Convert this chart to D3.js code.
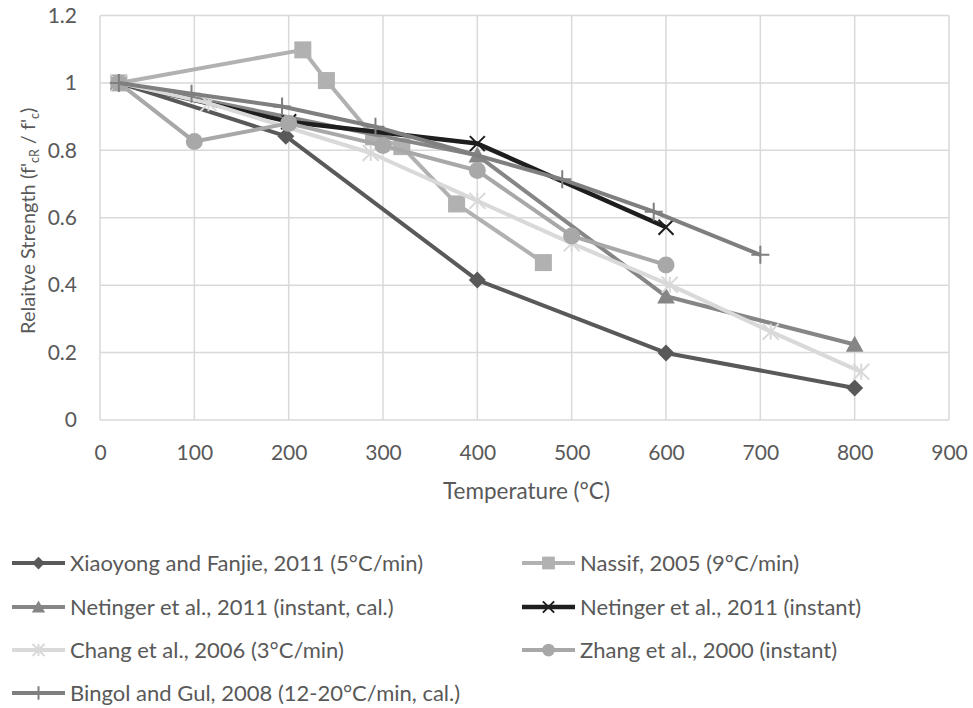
<!DOCTYPE html>
<html><head><meta charset="utf-8">
<script src="https://cdn.jsdelivr.net/npm/d3@7"></script>
<style>body{margin:0;background:#fff;} text{font-family:Lato,"Open Sans",sans-serif;}</style>
</head><body>
<svg id="chart" width="973" height="708"></svg>
<script>
// ---- data ----
const seriesNames = [
  "Xiaoyong and Fanjie, 2011 (5°C/min)",
  "Nassif, 2005 (9°C/min)",
  "Netinger et al., 2011 (instant, cal.)",
  "Netinger et al., 2011 (instant)",
  "Chang et al., 2006 (3°C/min)",
  "Zhang et al., 2000 (instant)",
  "Bingol and Gul, 2008 (12-20°C/min, cal.)"
];
const xiaoyongX = [20, 197, 400, 600, 800];
const xiaoyongY = [1, 0.842, 0.415, 0.199, 0.095];
const nassifX = [20, 215, 240, 290, 320, 378, 470];
const nassifY = [1, 1.098, 1.007, 0.84, 0.811, 0.641, 0.467];
const netCalX = [20, 400, 600, 800];
const netCalY = [1, 0.785, 0.367, 0.224];
const netInstX = [20, 200, 400, 600];
const netInstY = [1, 0.885, 0.82, 0.572];
const changX = [20, 115, 287, 400, 500, 604, 711, 807];
const changY = [1, 0.94, 0.792, 0.65, 0.524, 0.401, 0.262, 0.143];
const zhangX = [20, 100, 200, 300, 400, 500, 600];
const zhangY = [1, 0.826, 0.88, 0.814, 0.74, 0.546, 0.46];
const bingolX = [20, 97, 193, 292, 490, 587, 700];
const bingolY = [1, 0.968, 0.93, 0.87, 0.714, 0.618, 0.49];
const xTicks = [0, 100, 200, 300, 400, 500, 600, 700, 800, 900];
const yTicks = [0, 0.2, 0.4, 0.6, 0.8, 1, 1.2];

const seriesX = [xiaoyongX, nassifX, netCalX, netInstX, changX, zhangX, bingolX];
const seriesY = [xiaoyongY, nassifY, netCalY, netInstY, changY, zhangY, bingolY];
const colors = ["#595959", "#b1b1b1", "#868686", "#1e1e1e", "#d9d9d9", "#a8a8a8", "#7f7f7f"];
const markers = ["diamond", "square", "triangle", "x", "asterisk", "circle", "plus"];

// ---- layout ----
const svg = d3.select("#chart");
const L = 100, R = 949, T = 15.5, B = 420;
const x = d3.scaleLinear().domain([0, 900]).range([L, R]);
const y = d3.scaleLinear().domain([0, 1.2]).range([B, T]);
const txt = "#595959";

// gridlines
const g = svg.append("g");
g.selectAll("line.h").data(yTicks).join("line")
  .attr("x1", L).attr("x2", R).attr("y1", d => y(d)).attr("y2", d => y(d))
  .attr("stroke", "#d9d9d9").attr("stroke-width", 1.5);
g.selectAll("line.v").data(xTicks).join("line")
  .attr("y1", T).attr("y2", B).attr("x1", d => x(d)).attr("x2", d => x(d))
  .attr("stroke", "#d9d9d9").attr("stroke-width", 1.5);

// axes
const xAxis = svg.append("g").attr("transform", `translate(0,${B})`)
  .call(d3.axisBottom(x).tickValues(xTicks).tickSize(0).tickPadding(25).tickFormat(d3.format("d")));
xAxis.select(".domain").remove();
xAxis.selectAll("text").attr("fill", txt).style("font-size", "21px").style("font-family", "Lato");
const yAxis = svg.append("g").attr("transform", `translate(${L},0)`)
  .call(d3.axisLeft(y).tickValues(yTicks).tickSize(0).tickPadding(23).tickFormat(d => d3.format("")(+d.toFixed(1))));
yAxis.select(".domain").remove();
yAxis.selectAll("text").attr("fill", txt).style("font-size", "21px").style("font-family", "Lato");

// axis titles
svg.append("text").attr("x", (L + R) / 2 + 2).attr("y", 499).attr("text-anchor", "middle")
  .attr("fill", txt).style("font-size", "22.5px").text("Temperature (°C)");
const yt = svg.append("text").attr("transform", `translate(35,${(T + B) / 2 + 3}) rotate(-90)`)
  .attr("text-anchor", "middle").attr("fill", txt).style("font-size", "20px");
yt.append("tspan").text("Relaitve Strength (f'");
yt.append("tspan").attr("dy", 4).style("font-size", "12.5px").text("cR");
yt.append("tspan").attr("dy", -4).text(" / f'");
yt.append("tspan").attr("dy", 4).style("font-size", "12.5px").text("c");
yt.append("tspan").attr("dy", -4).text(")");

// marker drawing
function drawMarker(sel, type, color, s) {
  const h = s / 2;
  if (type === "diamond") {
    sel.append("path").attr("d", `M0,${-h}L${h},0L0,${h}L${-h},0Z`).attr("fill", color);
  } else if (type === "square") {
    sel.append("rect").attr("x", -h).attr("y", -h).attr("width", s).attr("height", s).attr("fill", color);
  } else if (type === "triangle") {
    sel.append("path").attr("d", `M0,${-s * 0.55}L${s * 0.55},${s * 0.45}L${-s * 0.55},${s * 0.45}Z`).attr("fill", color);
  } else if (type === "circle") {
    sel.append("circle").attr("r", h).attr("fill", color);
  } else if (type === "x") {
    sel.append("path").attr("d", `M${-h},${-h}L${h},${h}M${-h},${h}L${h},${-h}`).attr("stroke", color).attr("stroke-width", 2).attr("fill", "none");
  } else if (type === "asterisk") {
    sel.append("path").attr("d", `M${-h},${-h}L${h},${h}M${-h},${h}L${h},${-h}M0,${-h}L0,${h}`).attr("stroke", color).attr("stroke-width", 2).attr("fill", "none");
  } else if (type === "plus") {
    sel.append("path").attr("d", `M${-h},0L${h},0M0,${-h}L0,${h}`).attr("stroke", color).attr("stroke-width", 2).attr("fill", "none");
  }
}
const sizes = { diamond: 17, square: 17, triangle: 16, circle: 17, x: 15, asterisk: 16, plus: 18 };
const widths = [4, 4, 4, 4.5, 4, 4, 4];

const line = d3.line().x(d => x(d[0])).y(d => y(d[1]));
seriesNames.forEach((name, i) => {
  const pts = seriesX[i].map((v, j) => [v, seriesY[i][j]]);
  const sg = svg.append("g");
  sg.append("path").datum(pts).attr("d", line).attr("fill", "none")
    .attr("stroke", colors[i]).attr("stroke-width", widths[i]).attr("stroke-linejoin", "round");
  pts.forEach(p => {
    const m = sg.append("g").attr("transform", `translate(${x(p[0])},${y(p[1])})`);
    drawMarker(m, markers[i], colors[i], sizes[markers[i]]);
  });
});

// legend
const legPos = [[12, 563], [522, 563], [12, 607], [522, 607], [12, 650], [522, 650], [12, 693]];
seriesNames.forEach((name, i) => {
  const lg = svg.append("g").attr("transform", `translate(${legPos[i][0]},${legPos[i][1]})`);
  lg.append("line").attr("x1", 0).attr("x2", 53).attr("stroke", colors[i]).attr("stroke-width", widths[i]);
  const m = lg.append("g").attr("transform", "translate(26.5,0)");
  drawMarker(m, markers[i], colors[i], sizes[markers[i]] * 0.75);
  lg.append("text").attr("x", 58).attr("y", 0).attr("dy", "0.35em").attr("fill", txt)
    .style("font-size", "22px").text(name);
});
</script>
</body></html>
